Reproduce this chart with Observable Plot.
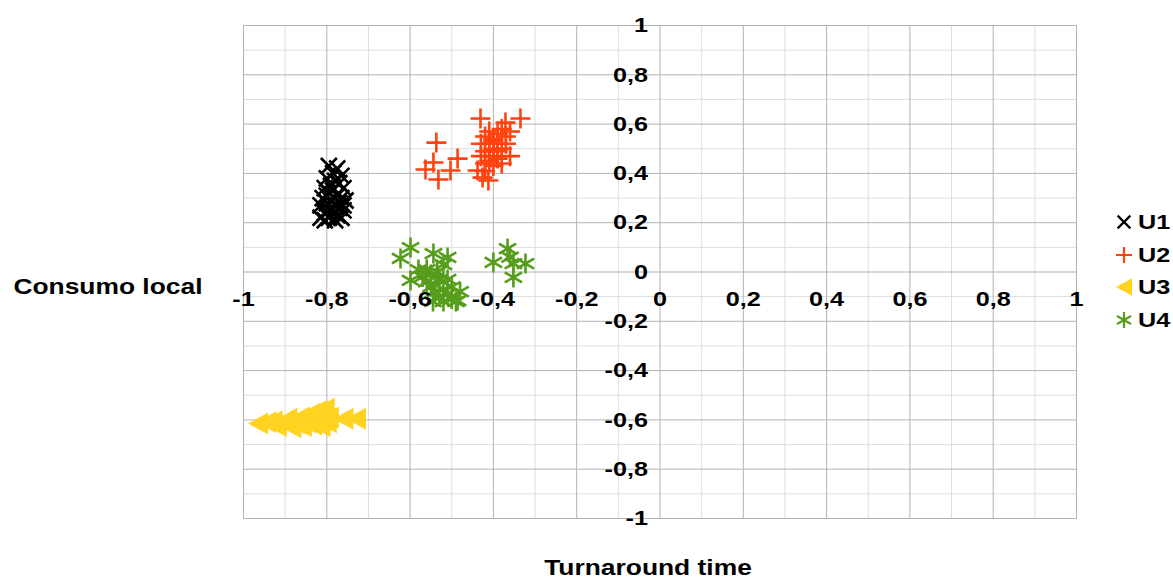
<!DOCTYPE html>
<html>
<head>
<meta charset="utf-8">
<script src="https://cdn.jsdelivr.net/npm/d3@7"></script>
<script src="https://cdn.jsdelivr.net/npm/@observablehq/plot@0.6"></script>
<style>
  html, body { margin: 0; padding: 0; background: #fff; }
  #wrap { position: relative; width: 1173px; height: 579px; }
  #legend { position: absolute; left: 1113px; top: 206px; font-family: "Liberation Sans", Arial, sans-serif; font-weight: bold; font-size: 21px; color: #000; }
  .item { height: 32.5px; display: flex; align-items: center; }
  .item span { display: inline-block; transform: scaleX(1.2); transform-origin: left center; margin-left: 3px; }
</style>
</head>
<body>
<div id="wrap"><div id="legend"></div></div>
<script>
// ---- data ----
const seriesNames = ["U1", "U2", "U3", "U4"];
const seriesColors = ["#000000", "#ff420e", "#ffd320", "#579d1c"];

const u1 = [
  [-0.795,0.43],[-0.775,0.42],[-0.785,0.40],[-0.765,0.39],[-0.800,0.38],[-0.780,0.37],
  [-0.790,0.35],[-0.770,0.36],[-0.805,0.34],[-0.760,0.34],[-0.785,0.33],[-0.795,0.32],
  [-0.775,0.31],[-0.810,0.30],[-0.765,0.30],[-0.755,0.29],[-0.790,0.29],[-0.800,0.28],
  [-0.780,0.27],[-0.815,0.27],[-0.770,0.26],[-0.760,0.25],[-0.795,0.25],[-0.805,0.24],
  [-0.785,0.24],[-0.775,0.23],[-0.815,0.22],[-0.765,0.22],[-0.795,0.22],[-0.780,0.21],
  [-0.805,0.21],[-0.790,0.26],[-0.770,0.28],[-0.800,0.31],[-0.780,0.30],[-0.760,0.27]
];
const u2 = [
  [-0.537,0.525],[-0.563,0.416],[-0.544,0.444],[-0.532,0.375],[-0.503,0.412],[-0.486,0.460],
  [-0.431,0.623],[-0.335,0.623],[-0.371,0.606],[-0.426,0.383],[-0.412,0.371],[-0.438,0.412],
  [-0.42,0.55],[-0.41,0.57],[-0.40,0.54],[-0.39,0.56],[-0.38,0.58],[-0.37,0.55],
  [-0.41,0.52],[-0.40,0.50],[-0.39,0.52],[-0.42,0.49],[-0.38,0.50],[-0.40,0.47],
  [-0.41,0.45],[-0.39,0.46],[-0.43,0.47],[-0.42,0.44],[-0.40,0.43],[-0.38,0.44],
  [-0.37,0.52],[-0.36,0.57],[-0.41,0.49],[-0.39,0.49],[-0.43,0.52],[-0.40,0.53],
  [-0.42,0.41],[-0.36,0.47]
];
const u3 = [
  [-0.965,-0.615],[-0.945,-0.61],[-0.93,-0.605],[-0.92,-0.625],[-0.905,-0.61],[-0.895,-0.595],
  [-0.885,-0.63],[-0.875,-0.615],[-0.865,-0.59],[-0.86,-0.625],[-0.85,-0.61],[-0.84,-0.575],
  [-0.835,-0.62],[-0.825,-0.565],[-0.82,-0.6],[-0.815,-0.625],[-0.805,-0.555],[-0.80,-0.61],
  [-0.795,-0.59],[-0.76,-0.595],[-0.73,-0.595]
];
const u4 = [
  [-0.599,0.099],[-0.623,0.055],[-0.544,0.075],[-0.510,0.059],[-0.520,0.03],[-0.599,-0.034],
  [-0.58,0.01],[-0.57,-0.02],[-0.56,-0.04],[-0.55,-0.01],[-0.54,-0.05],[-0.53,-0.03],
  [-0.52,-0.07],[-0.51,-0.09],[-0.50,-0.11],[-0.49,-0.12],[-0.486,-0.116],[-0.53,-0.10],
  [-0.54,-0.08],[-0.55,-0.06],[-0.52,-0.12],[-0.50,-0.06],[-0.48,-0.08],[-0.56,0.01],
  [-0.535,0.0],[-0.51,-0.03],[-0.545,-0.12],
  [-0.366,0.095],[-0.400,0.039],[-0.352,0.034],[-0.323,0.034],[-0.352,-0.022],[-0.36,0.06]
];

const tickValues = [-1,-0.8,-0.6,-0.4,-0.2,0,0.2,0.4,0.6,0.8,1];
const tickLabels = ["-1","-0,8","-0,6","-0,4","-0,2","0","0,2","0,4","0,6","0,8","1"];
const minorValues = [-0.9,-0.7,-0.5,-0.3,-0.1,0.1,0.3,0.5,0.7,0.9];
const xTitle = "Turnaround time";
const yTitle = "Consumo local";

// ---- symbols ----
const rOf = size => Math.sqrt(size / Math.PI);
const symTimes = {draw(c, size) { const a = rOf(size) * 0.8; c.moveTo(-a,-a); c.lineTo(a,a); c.moveTo(-a,a); c.lineTo(a,-a); }};
const symPlus = {draw(c, size) { const a = rOf(size); c.moveTo(-a,0); c.lineTo(a,0); c.moveTo(0,-a); c.lineTo(0,a); }};
const symTriLeft = {draw(c, size) { const a = rOf(size); c.moveTo(-a,0); c.lineTo(a,-1.1*a); c.lineTo(a,1.1*a); c.closePath(); }};
const symAsterisk = {draw(c, size) { const a = rOf(size); const t = a/2, u = t*Math.sqrt(3);
  c.moveTo(0,-a); c.lineTo(0,a); c.moveTo(-u,-t); c.lineTo(u,t); c.moveTo(-u,t); c.lineTo(u,-t); }};
const symbols = [symTimes, symPlus, symTriLeft, symAsterisk];

const seriesData = [u1, u2, u3, u4];

const font = '"Liberation Sans", Arial, sans-serif';
const fmt = v => tickLabels[tickValues.indexOf(v)];

const dotMark = (data, i) => {
  const filled = i === 2;
  return Plot.dot(data, {
    x: d => d[0], y: d => d[1], r: 10, symbol: () => symbols[i],
    fill: filled ? seriesColors[i] : "none",
    stroke: filled ? "none" : seriesColors[i],
    strokeWidth: 2.6
  });
};

const chart = Plot.plot({
  width: 1173, height: 579,
  marginLeft: 243, marginRight: 97, marginTop: 25, marginBottom: 61,
  x: {domain: [-1, 1], axis: null},
  y: {domain: [-1, 1], axis: null},
  symbol: {type: "identity"},
  style: {fontFamily: font, fontSize: "21px", fontWeight: "bold", background: "#fff", color: "#000"},
  marks: [
    Plot.ruleX(minorValues, {stroke: "#dddddd", strokeWidth: 1}),
    Plot.ruleY(minorValues, {stroke: "#dddddd", strokeWidth: 1}),
    Plot.ruleX(tickValues, {stroke: "#b3b3b3", strokeWidth: 1}),
    Plot.ruleY(tickValues, {stroke: "#b3b3b3", strokeWidth: 1}),
    Plot.frame({stroke: "#b3b3b3"}),
    ...seriesData.map((d, i) => dotMark(d, i)),
    Plot.text(tickValues, {x: d => d, y: 0, dy: 27, text: fmt, fill: "#000"}),
    Plot.text(tickValues, {x: 0, y: d => d, dx: -12, textAnchor: "end", text: fmt, fill: "#000"}),
    Plot.text([yTitle], {frameAnchor: "left", dx: -41, dy: 15, textAnchor: "end", text: d => d, fontSize: 22, fill: "#000"}),
    Plot.text([xTitle], {frameAnchor: "bottom", dx: -12, dy: 56, text: d => d, fontSize: 22, fill: "#000"})
  ]
});

// stretch text horizontally to match the reference's wide lettering
chart.querySelectorAll("text").forEach(t => {
  const x = +(t.getAttribute("x") || 0);
  const tr = t.getAttribute("transform") || "";
  t.setAttribute("transform", `${tr} translate(${x},0) scale(1.2,1) translate(${-x},0)`);
});

document.getElementById("wrap").prepend(chart);

// legend
const legend = d3.select("#legend");
seriesNames.forEach((name, i) => {
  const item = legend.append("div").attr("class", "item");
  const svg = item.append("svg").attr("width", 22).attr("height", 22);
  const p = d3.path();
  symbols[i].draw(p, Math.PI * 8 * 8);
  const filled = i === 2;
  svg.append("path").attr("transform", "translate(11,11)").attr("d", p.toString())
    .attr("fill", filled ? seriesColors[i] : "none")
    .attr("stroke", filled ? "none" : seriesColors[i])
    .attr("stroke-width", 2.2);
  item.append("span").text(name);
});
</script>
</body>
</html>
